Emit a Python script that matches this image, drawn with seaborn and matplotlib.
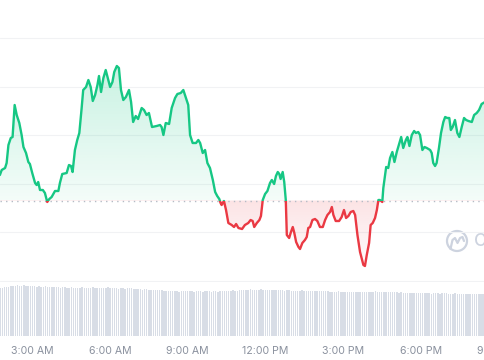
import numpy as np
import pandas as pd
import matplotlib
matplotlib.use("Agg")
import matplotlib.pyplot as plt
import seaborn as sns
from matplotlib.patches import Rectangle, Circle
from matplotlib.colors import to_rgb

# ---------------- data ----------------
hours = [1.74, 1.81, 1.94, 2.00, 2.07, 2.16, 2.23, 2.31, 2.39, 2.49,
         2.58, 2.65, 2.75, 2.84, 2.90, 2.99, 3.10, 3.16, 3.22, 3.29,
         3.40, 3.48, 3.57, 3.65, 3.74, 3.87, 4.00, 4.06, 4.15, 4.32,
         4.41, 4.49, 4.55, 4.64, 4.73, 4.81, 4.90, 4.96, 5.07, 5.16,
         5.25, 5.33, 5.42, 5.51, 5.57, 5.65, 5.74, 5.83, 5.91, 6.00,
         6.09, 6.16, 6.26, 6.34, 6.42, 6.51, 6.61, 6.73, 6.81, 6.89,
         6.99, 7.08, 7.22, 7.31, 7.41, 7.50, 7.62, 7.80, 7.93, 7.99,
         8.06, 8.15, 8.28, 8.38, 8.51, 8.60, 8.73, 8.83, 8.92, 9.02,
         9.09, 9.19, 9.32, 9.41, 9.48, 9.58, 9.67, 9.76, 9.86, 9.97,
         10.06, 10.14, 10.22, 10.27, 10.31, 10.40, 10.48, 10.57, 10.70, 10.79,
         10.87, 10.96, 11.10, 11.21, 11.34, 11.43, 11.51, 11.57, 11.67, 11.77,
         11.83, 11.90, 11.99, 12.08, 12.18, 12.25, 12.34, 12.41, 12.48, 12.54,
         12.59, 12.67, 12.73, 12.79, 12.83, 12.92, 12.99, 13.06, 13.12, 13.19,
         13.28, 13.34, 13.43, 13.53, 13.60, 13.66, 13.73, 13.82, 13.92, 14.01,
         14.11, 14.22, 14.31, 14.40, 14.50, 14.57, 14.63, 14.72, 14.85, 14.95,
         15.04, 15.12, 15.21, 15.30, 15.40, 15.47, 15.56, 15.66, 15.79, 15.85,
         15.92, 16.01, 16.07, 16.15, 16.24, 16.31, 16.37, 16.43, 16.52, 16.56,
         16.67, 16.75, 16.82, 16.91, 16.99, 17.08, 17.18, 17.25, 17.33, 17.43,
         17.49, 17.57, 17.66, 17.75, 17.82, 17.91, 17.98, 18.07, 18.15, 18.24,
         18.37, 18.43, 18.49, 18.56, 18.62, 18.71, 18.79, 18.88, 18.95, 19.03,
         19.11, 19.17, 19.24, 19.33, 19.42, 19.50, 19.59, 19.68, 19.76, 19.85,
         19.98, 20.07, 20.17, 20.26, 20.36, 20.49]

price = [125, 130, 132, 137, 155, 162, 163, 195, 185, 177,
         165, 153, 147, 138, 136, 127, 117, 115, 118, 110,
         110, 107, 98, 101, 103, 109, 109, 117, 126, 127,
         135, 134, 128, 150, 160, 167, 192, 210, 213, 220,
         213, 199, 205, 215, 224, 208, 222, 230, 222, 213,
         218, 228, 234, 232, 210, 200, 203, 210, 198, 178,
         184, 181, 192, 190, 185, 187, 173, 174, 175, 173,
         165, 177, 176, 192, 202, 206, 207, 210, 203, 195,
         165, 157, 157, 160, 157, 147, 150, 137, 132, 120,
         108, 104, 101, 97, 95, 99, 90, 77, 75, 73,
         76, 72, 71, 75, 77, 80, 79, 73, 77, 80,
         84, 100, 106, 109, 117, 120, 116, 124, 128, 126,
         121, 128, 118, 100, 65, 62, 68, 73, 67, 58,
         53, 51, 57, 60, 63, 72, 73, 80, 81, 79,
         73, 73, 80, 85, 88, 93, 85, 79, 79, 83,
         90, 82, 84, 88, 89, 85, 65, 48, 35, 34,
         45, 57, 75, 77, 82, 90, 100, 100, 98, 112,
         133, 132, 142, 148, 138, 148, 157, 163, 152, 160,
         163, 154, 165, 169, 167, 168, 165, 150, 153, 152,
         150, 147, 137, 134, 137, 152, 167, 178, 183, 182,
         182, 170, 173, 180, 167, 163, 173, 182, 180, 179,
         178, 185, 187, 190, 196, 198]

open_price = 99.5

# volume, one bar every 5 minutes starting 1:45 AM
volume_start_hour = 1.75
volume = [48, 48, 49,
          49, 49, 50, 50, 50, 51, 50, 50, 51, 50, 50, 50,
          50, 50, 49, 50, 49, 49, 50, 49, 49, 49, 49, 49,
          49, 48, 49, 49, 48, 48, 49, 48, 48, 48, 48, 49,
          48, 48, 48, 48, 49, 48, 48, 48, 48, 48, 48, 49,
          48, 48, 48, 48, 47, 48, 48, 47, 48, 48, 48, 47,
          47, 47, 47, 46, 47, 47, 46, 46, 46, 46, 46, 46,
          46, 45, 45, 45, 45, 45, 45, 45, 44, 45, 45, 45,
          45, 45, 45, 44, 45, 45, 45, 44, 45, 45, 45, 44,
          45, 45, 44, 45, 45, 45, 45, 45, 45, 46, 45, 45,
          46, 46, 46, 46, 46, 47, 46, 46, 46, 46, 47, 46,
          46, 46, 46, 46, 46, 46, 46, 46, 46, 45, 46, 46,
          45, 45, 45, 45, 45, 46, 45, 45, 45, 45, 45, 45,
          45, 45, 45, 45, 45, 45, 44, 44, 44, 44, 45, 44,
          44, 44, 44, 44, 44, 44, 44, 44, 44, 44, 44, 44,
          44, 44, 44, 45, 44, 44, 44, 44, 44, 44, 44, 44,
          44, 44, 43, 44, 43, 43, 43, 43, 43, 43, 43, 43,
          43, 43, 43, 43, 43, 42, 43, 43, 43, 42, 43, 43,
          43, 42, 42, 42, 43, 42, 42, 42, 42, 42, 42, 42,
          42, 42, 42, 42, 42, 42, 42]

tick_hours = [3, 6, 9, 12, 15, 18, 21]
tick_labels = ["3:00 AM", "6:00 AM", "9:00 AM", "12:00 PM", "3:00 PM", "6:00 PM", "9:00 PM"]

GREEN = "#16c784"
RED = "#ea3943"
LABEL_COLOR = "#8a919e"
LABEL_SIZE = 7.6

# ---------------- style ----------------
sns.set_theme(style="white")
plt.rcParams["font.family"] = ["Inter", "DejaVu Sans"]

df = pd.DataFrame({"hour": hours, "price": price})
vol_hours = volume_start_hour + np.arange(len(volume)) / 12.0

xmin, xmax = 1.744, 20.49

fig = plt.figure(figsize=(4.85, 3.6), dpi=100)
ax = fig.add_axes([0, 78 / 360, 1, 282 / 360])
axv = fig.add_axes([0, 24 / 360, 1, 54 / 360])

# gridlines
ax.set_yticks(np.linspace(19, 262, 6))
ax.yaxis.grid(True, color="#f1f2f4", lw=0.8)
ax.xaxis.grid(False)
ax.tick_params(left=False, labelleft=False, bottom=False, labelbottom=False)
for s in ax.spines.values():
    s.set_visible(False)

# gradient fills clipped to the area between line and open price
poly = ax.fill_between(df["hour"], df["price"], open_price, facecolor="none", edgecolor="none")
clip_path = poly.get_paths()[0]

n = 256
g = np.linspace(0, 1, n)
green_img = np.zeros((n, 1, 4))
green_img[..., :3] = to_rgb(GREEN)
green_img[:, 0, 3] = 0.05 + 0.18 * g
red_img = np.zeros((n, 1, 4))
red_img[..., :3] = to_rgb(RED)
red_img[:, 0, 3] = 0.02 + 0.12 * g

im_g = ax.imshow(green_img, extent=[xmin, xmax, open_price, max(price)], origin="lower",
                 aspect="auto", zorder=1, interpolation="bilinear")
im_g.set_clip_path(clip_path, transform=ax.transData)
im_r = ax.imshow(red_img, extent=[xmin, xmax, min(price), open_price], origin="lower",
                 aspect="auto", zorder=1, interpolation="bilinear")
im_r.set_clip_path(clip_path, transform=ax.transData)

# open price dotted line
ax.axhline(open_price, color="#b5bbc5", lw=1.0, ls=(0, (1, 3)), zorder=2)

# price line, green above / red below the open price
sns.lineplot(data=df, x="hour", y="price", ax=ax, color=GREEN, lw=1.7, sort=False, zorder=3)
sns.lineplot(data=df, x="hour", y="price", ax=ax, color=RED, lw=1.7, sort=False, zorder=3)
lines = ax.get_lines()
up_line, down_line = lines[-2], lines[-1]
up_line.set_clip_path(Rectangle((xmin - 1, open_price), xmax - xmin + 2, 1000, transform=ax.transData))
down_line.set_clip_path(Rectangle((xmin - 1, open_price - 1000), xmax - xmin + 2, 1000, transform=ax.transData))
for l in (up_line, down_line):
    l.set_solid_joinstyle("round")
    l.set_solid_capstyle("round")

ax.set_xlim(xmin, xmax)
ax.set_ylim(18, 300)
ax.set_xlabel("")
ax.set_ylabel("")

# volume bars
axv.bar(vol_hours, volume, width=0.055, color="#d8dde6", linewidth=0)
axv.set_yticks([])
inside = [(h, t) for h, t in zip(tick_hours, tick_labels) if xmin <= h <= xmax]
outside = [(h, t) for h, t in zip(tick_hours, tick_labels) if not (xmin <= h <= xmax)]
axv.set_xticks([h for h, _ in inside])
axv.set_xticklabels([t for _, t in inside])
axv.set_xlim(xmin, xmax)
axv.set_ylim(0, 54)
axv.tick_params(axis="x", length=0, pad=7, labelsize=LABEL_SIZE, labelcolor=LABEL_COLOR)
# label of a tick that sits just past the right edge (only partly visible, as in the source)
for h, t in outside:
    axv.annotate(t, xy=(h, 0), xycoords=("data", "axes fraction"), xytext=(0, -7),
                 textcoords="offset points", ha="center", va="top", fontsize=LABEL_SIZE,
                 color=LABEL_COLOR, annotation_clip=False)
for s in axv.spines.values():
    s.set_visible(False)
axv.patch.set_alpha(0)

# watermark
ov = fig.add_axes([0, 0, 1, 1], zorder=-1)
ov.set_xlim(0, 485)
ov.set_ylim(360, 0)
ov.axis("off")
ov.add_patch(Circle((457, 241), 10, fill=False, ec="#cdd3df", lw=1.6))
ov.plot([450.5, 452.5, 455, 457.5, 460, 462.5, 464], [249, 240, 238, 243, 238, 237, 241],
        color="#cdd3df", lw=1.6, solid_capstyle="round")
ov.text(474, 241.5, "CoinGecko", fontsize=12.5, color="#cdd3df", va="center", ha="left",
        fontweight="medium")
ax.patch.set_alpha(0)

fig.savefig("out.png", dpi=100)
